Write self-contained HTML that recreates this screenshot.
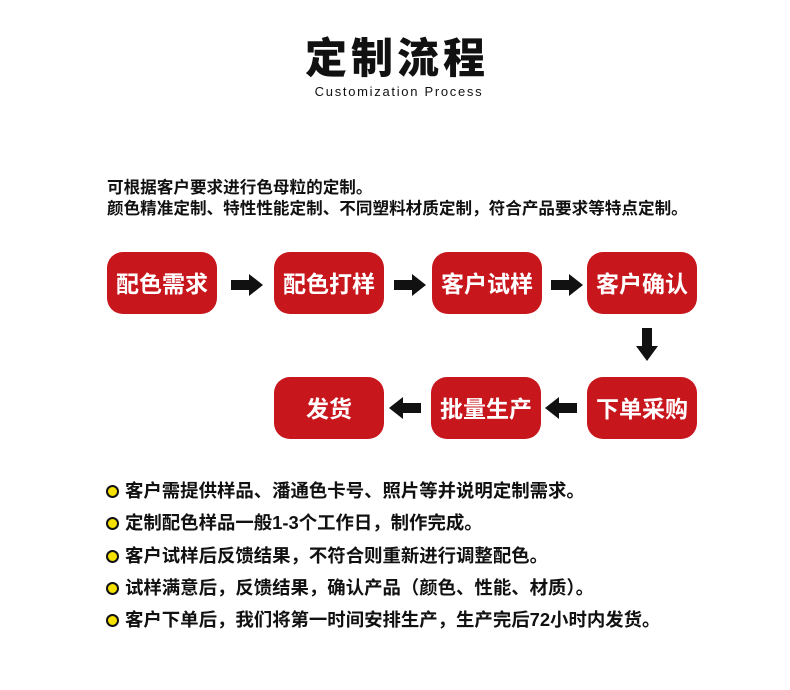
<!DOCTYPE html>
<html><head><meta charset="utf-8"><style>
body{margin:0;width:790px;height:690px;background:#fff;position:relative;font-family:"Liberation Sans","Noto Sans CJK SC",sans-serif;color:#111;overflow:hidden}
.a{position:absolute;white-space:nowrap}
.b{position:absolute;width:110px;height:62px;background:#c8161d;border-radius:16px;color:#fff;font-weight:bold;font-size:23px;line-height:65px;text-align:center}
.dot{position:absolute;width:9px;height:9px;border-radius:50%;background:#f5e100;border:2px solid #111}
.t{position:absolute;left:125px;font-size:18.4px;font-weight:bold;line-height:22px;white-space:nowrap}
</style></head><body>
<div class="a" style="left:0;width:794px;text-align:center;top:33px;font-size:42px;font-weight:900;letter-spacing:4px;line-height:52px">定制流程</div>
<div class="a" style="left:0;width:798px;text-align:center;top:84px;font-size:13px;letter-spacing:1.7px">Customization Process</div>
<div class="a" style="left:107px;top:177px;font-size:16.6px;font-weight:bold;line-height:21px">可根据客户要求进行色母粒的定制。<br>颜色精准定制、特性性能定制、不同塑料材质定制，符合产品要求等特点定制。</div>
<div class="b" style="left:107px;top:252px">配色需求</div>
<div class="b" style="left:274px;top:252px">配色打样</div>
<div class="b" style="left:432px;top:252px">客户试样</div>
<div class="b" style="left:587px;top:252px">客户确认</div>
<div class="b" style="left:274px;top:377px">发货</div>
<div class="b" style="left:431px;top:377px">批量生产</div>
<div class="b" style="left:587px;top:377px">下单采购</div>
<svg class="a" style="left:0;top:0" width="790" height="690">
<g fill="#111">
<polygon points="231,280 249,280 249,274 263,285 249,296 249,290 231,290"/>
<polygon points="394,280 412,280 412,274 426,285 412,296 412,290 394,290"/>
<polygon points="551,280 569,280 569,274 583,285 569,296 569,290 551,290"/>
<polygon points="642,328 652,328 652,346 658,346 647,361 636,346 642,346"/>
<polygon points="577,403 559,403 559,397 545,408 559,419 559,413 577,413"/>
<polygon points="421,403 403,403 403,397 389,408 403,419 403,413 421,413"/>
</g></svg>
<div class="dot" style="left:106px;top:485px"></div><div class="t" style="top:480px">客户需提供样品、潘通色卡号、照片等并说明定制需求。</div>
<div class="dot" style="left:106px;top:517px"></div><div class="t" style="top:512px">定制配色样品一般1-3个工作日，制作完成。</div>
<div class="dot" style="left:106px;top:550px"></div><div class="t" style="top:545px">客户试样后反馈结果，不符合则重新进行调整配色。</div>
<div class="dot" style="left:106px;top:582px"></div><div class="t" style="top:577px">试样满意后，反馈结果，确认产品（颜色、性能、材质）。</div>
<div class="dot" style="left:106px;top:614px"></div><div class="t" style="top:609px">客户下单后，我们将第一时间安排生产，生产完后72小时内发货。</div>
</body></html>
